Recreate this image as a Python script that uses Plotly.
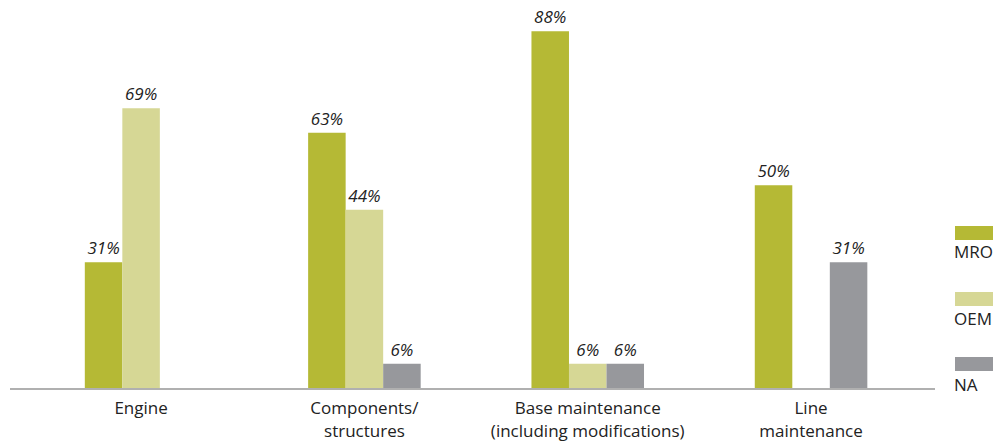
import plotly.graph_objects as go

categories = ["Engine", "Components/<br>structures", "Base maintenance<br>(including modifications)", "Line<br>maintenance"]
series_names = ["MRO", "OEM", "NA"]
mro = [31, 63, 88, 50]
oem = [69, 44, 6, None]
na = [None, 6, 6, 31]
colors = ["#b5b935", "#d6d795", "#97989c"]

FONT = "Open Sans"

fig = go.Figure()
for name, vals, col in zip(series_names, [mro, oem, na], colors):
    fig.add_trace(go.Bar(
        x=list(range(len(categories))), y=vals, name=name, marker_color=col,
        marker_line_width=0,
        text=[f"{v}%" if v is not None else "" for v in vals],
        textposition="outside", cliponaxis=False,
        textfont=dict(family=FONT, size=17, color="#222222", style="italic"),
        showlegend=False,
    ))

L, R, T, B = 10, 69, 3, 53
W, H = 1004, 441
pw, ph = W - L - R, H - T - B

def px_x(x):
    return (x - L) / pw

def px_y(y):
    return (H - B - y) / ph

# legend drawn as stacked swatch above label
leg_sw = [(226, 240), (292, 306), (357, 371)]
leg_txt = [251, 318, 384]
for name, col, (y0, y1), ty in zip(series_names, colors, leg_sw, leg_txt):
    fig.add_shape(type="rect", xref="paper", yref="paper",
                  x0=px_x(955), x1=px_x(993), y0=px_y(y1), y1=px_y(y0),
                  fillcolor=col, line_width=0)
    fig.add_annotation(xref="paper", yref="paper", x=px_x(952), y=px_y(ty),
                       text=name, showarrow=False, xanchor="left", yanchor="middle",
                       font=dict(family=FONT, size=17, color="#222222"))

fig.update_layout(
    width=W, height=H, margin=dict(l=L, r=R, t=T, b=B, autoexpand=False),
    plot_bgcolor="white", paper_bgcolor="white",
    barmode="group", bargap=0.496, bargroupgap=0,
    xaxis=dict(range=[-0.587, 3.555], tickmode="array",
               tickvals=list(range(len(categories))), ticktext=categories,
               showline=True, linecolor="#b0b0b0", linewidth=2, ticks="",
               showgrid=False, zeroline=False, ticklabelstandoff=4,
               automargin=False,
               tickfont=dict(family=FONT, size=17, color="#222222")),
    yaxis=dict(range=[0, 95], visible=False, showgrid=False, automargin=False),
)

fig.write_html("out.html", config={"displayModeBar": False},
               post_script="document.body.style.margin='0';document.body.style.overflow='hidden';")
